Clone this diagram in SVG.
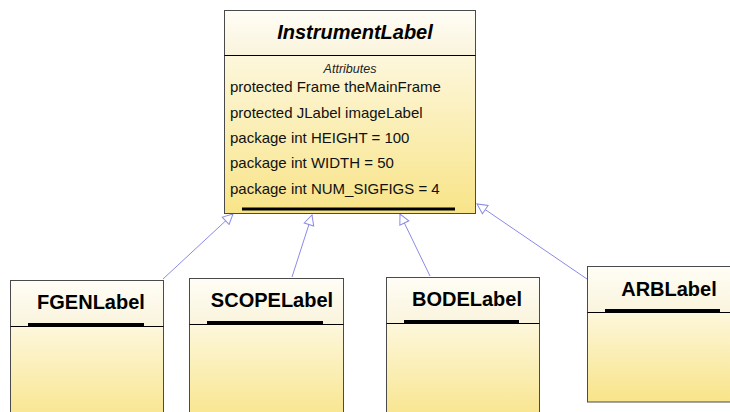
<svg xmlns="http://www.w3.org/2000/svg" width="730" height="412" viewBox="0 0 730 412">
<style>
.box{stroke:#4a4a4a;stroke-width:1}
.div{stroke:#000;stroke-width:1}
.bar{fill:#000}
.title{font-family:"Liberation Sans",Arial,sans-serif;font-weight:bold;font-size:20px;fill:#000;text-anchor:middle}
.attr{font-family:"Liberation Sans",Arial,sans-serif;font-size:15px;fill:#111}
.conn{stroke:#8a8ae6;stroke-width:1;fill:none;marker-end:url(#tri)}
</style>
<defs>
<linearGradient id="hdr" x1="0" y1="0" x2="0" y2="1">
<stop offset="0" stop-color="#fffdf6"/>
<stop offset="1" stop-color="#faf4dc"/>
</linearGradient>
<linearGradient id="body" x1="0" y1="0" x2="0" y2="1">
<stop offset="0" stop-color="#fdf7dc"/>
<stop offset="1" stop-color="#f8e488"/>
</linearGradient>
<marker id="tri" viewBox="0 0 12 12" refX="11" refY="6" markerWidth="12" markerHeight="12" markerUnits="userSpaceOnUse" orient="auto">
<path d="M1,1 L11,6 L1,11 Z" fill="#fff" stroke="#8a8ae6" stroke-width="1"/>
</marker>
</defs>

<g id="connectors">
<line class="conn" x1="163" y1="279" x2="233" y2="214"/>
<line class="conn" x1="292" y1="277" x2="312" y2="215"/>
<line class="conn" x1="430" y1="276" x2="400" y2="214"/>
<line class="conn" x1="587" y1="279" x2="477" y2="204"/>
</g>

<g id="InstrumentLabel">
<rect class="box" x="224.5" y="10.5" width="251" height="45" fill="url(#hdr)"/>
<rect class="box" x="224.5" y="55.5" width="251" height="158" fill="url(#body)"/>
<line class="div" x1="224.5" y1="55.5" x2="475.5" y2="55.5"/>
<rect class="bar" x="242" y="207.5" width="213" height="3"/>
<text class="title" x="355" y="39" font-style="italic">InstrumentLabel</text>
<text x="350" y="73" font-family="'Liberation Sans',Arial,sans-serif" font-size="12.5" font-style="italic" fill="#222" text-anchor="middle">Attributes</text>
<text class="attr" x="230" y="92">protected Frame theMainFrame</text>
<text class="attr" x="230" y="118">protected JLabel imageLabel</text>
<text class="attr" x="230" y="143">package int HEIGHT = 100</text>
<text class="attr" x="230" y="168">package int WIDTH = 50</text>
<text class="attr" x="230" y="194">package int NUM_SIGFIGS = 4</text>
</g>

<g id="FGENLabel">
<rect class="box" x="10.5" y="280.5" width="153" height="46" fill="url(#hdr)"/>
<rect class="box" x="10.5" y="326.5" width="153" height="100" fill="url(#body)"/>
<rect class="bar" x="28" y="323" width="116" height="3"/>
<line class="div" x1="10.5" y1="326.5" x2="163.5" y2="326.5"/>
<text class="title" x="91" y="309">FGENLabel</text>
</g>

<g id="SCOPELabel">
<rect class="box" x="189.5" y="278.5" width="154" height="46" fill="url(#hdr)"/>
<rect class="box" x="189.5" y="324.5" width="154" height="100" fill="url(#body)"/>
<rect class="bar" x="207" y="321" width="116" height="3"/>
<line class="div" x1="189.5" y1="324.5" x2="343.5" y2="324.5"/>
<text class="title" x="272" y="307">SCOPELabel</text>
</g>

<g id="BODELabel">
<rect class="box" x="386.5" y="277.5" width="153" height="46" fill="url(#hdr)"/>
<rect class="box" x="386.5" y="323.5" width="153" height="100" fill="url(#body)"/>
<rect class="bar" x="404" y="320" width="115" height="3"/>
<line class="div" x1="386.5" y1="323.5" x2="539.5" y2="323.5"/>
<text class="title" x="467" y="306">BODELabel</text>
</g>

<g id="ARBLabel">
<rect class="box" x="587.5" y="266.5" width="160" height="46" fill="url(#hdr)"/>
<rect class="box" x="587.5" y="312.5" width="160" height="89.5" fill="url(#body)"/>
<rect class="bar" x="605" y="309" width="115" height="3"/>
<line class="div" x1="587.5" y1="312.5" x2="747.5" y2="312.5"/>
<text class="title" x="669" y="296">ARBLabel</text>
</g>
</svg>
